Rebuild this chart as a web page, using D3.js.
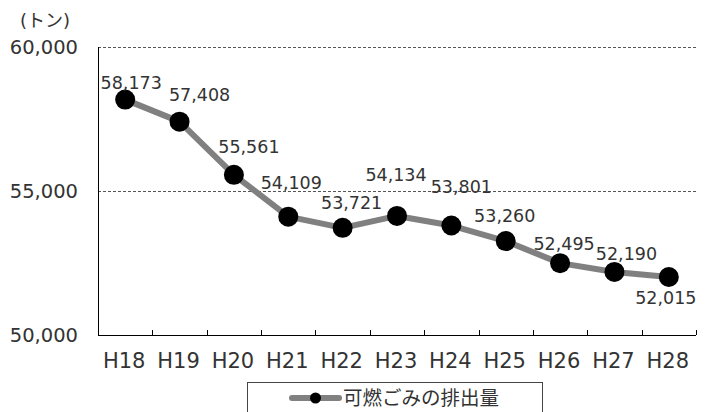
<!DOCTYPE html>
<html>
<head>
<meta charset="utf-8">
<script src="https://cdn.jsdelivr.net/npm/d3@7"></script>
<style>
  body { margin: 0; background: #fff; }
  svg { display: block; font-family: "DejaVu Sans", "Noto Sans CJK JP", sans-serif; }
</style>
</head>
<body>
<svg id="chart"></svg>
<script>
// data
const years = ['H18', 'H19', 'H20', 'H21', 'H22', 'H23', 'H24', 'H25', 'H26', 'H27', 'H28'];
const burnable = [58173, 57408, 55561, 54109, 53721, 54134, 53801, 53260, 52495, 52190, 52015];
const yTicks = [50000, 55000, 60000];
const seriesName = '可燃ごみの排出量';
const unitLabel = '(トン)';

// where each value label sits relative to its point (dx, dy)
const labelOffsets = [[6, -17], [20, -27], [15, -28], [3, -34], [9, -25], [-1, -41],
  [10, -39], [-1, -25], [4, -19], [12, -18], [-3, 21]];

const width = 706, height = 412;
const margin = {top: 47, right: 10, bottom: 77, left: 98};
const innerW = 696 - margin.left;
const innerH = 335 - margin.top;

const svg = d3.select('#chart')
    .attr('width', width)
    .attr('height', height);

const chart = svg.append('g')
    .attr('transform', `translate(${margin.left},${margin.top})`);

const xScale = d3.scaleBand()
    .domain(years)
    .range([0, innerW]);

const yScale = d3.scaleLinear()
    .domain([50000, 60000])
    .range([innerH, 0]);

// dashed gridlines
chart.append('g')
  .selectAll('line')
  .data(yTicks.filter(d => d > 50000))
  .join('line')
    .attr('x1', 0)
    .attr('x2', innerW)
    .attr('y1', d => Math.round(yScale(d)) + 0.5)
    .attr('y2', d => Math.round(yScale(d)) + 0.5)
    .attr('stroke', '#555')
    .attr('stroke-width', 1)
    .attr('stroke-dasharray', '3,2');

// y labels
chart.append('g')
  .selectAll('text')
  .data(yTicks)
  .join('text')
    .attr('x', -20)
    .attr('y', d => yScale(d))
    .attr('dy', '0.36em')
    .attr('text-anchor', 'end')
    .attr('font-size', 19.5)
    .attr('fill', '#333')
    .text(d => d3.format(',')(d));

svg.append('text')
    .attr('x', 20)
    .attr('y', 27)
    .attr('font-size', 18)
    .attr('fill', '#333')
    .text(unitLabel);

// y axis line
chart.append('line')
    .attr('x1', 0.5).attr('x2', 0.5)
    .attr('y1', 0).attr('y2', innerH)
    .attr('stroke', '#000');

// x axis
const xAxisG = chart.append('g')
    .attr('transform', `translate(0,${innerH})`);

xAxisG.append('line')
    .attr('x1', 0).attr('x2', innerW)
    .attr('y1', 0.5).attr('y2', 0.5)
    .attr('stroke', '#000');

// tick marks at band boundaries, pointing up
xAxisG.selectAll('.tick')
  .data(years)
  .join('line')
    .attr('class', 'tick')
    .attr('x1', d => Math.round(xScale(d) + xScale.bandwidth()) + 0.5)
    .attr('x2', d => Math.round(xScale(d) + xScale.bandwidth()) + 0.5)
    .attr('y1', 0)
    .attr('y2', -5)
    .attr('stroke', '#000');

xAxisG.selectAll('.xlabel')
  .data(years)
  .join('text')
    .attr('class', 'xlabel')
    .attr('x', d => xScale(d) + xScale.bandwidth() / 2 - 1)
    .attr('y', 25)
    .attr('dy', '0.36em')
    .attr('text-anchor', 'middle')
    .attr('font-size', 21)
    .attr('fill', '#333')
    .text(d => d);

// line + markers
const xPos = (d, i) => xScale(years[i]) + xScale.bandwidth() / 2;

const line = d3.line()
    .x(xPos)
    .y(d => yScale(d));

chart.append('path')
    .datum(burnable)
    .attr('d', line)
    .attr('fill', 'none')
    .attr('stroke', '#808080')
    .attr('stroke-width', 6)
    .attr('stroke-linejoin', 'round');

chart.selectAll('.dot')
  .data(burnable)
  .join('circle')
    .attr('class', 'dot')
    .attr('cx', xPos)
    .attr('cy', d => yScale(d))
    .attr('r', 10)
    .attr('fill', '#000');

chart.selectAll('.vlabel')
  .data(burnable)
  .join('text')
    .attr('class', 'vlabel')
    .attr('x', (d, i) => xPos(d, i) + labelOffsets[i][0])
    .attr('y', (d, i) => yScale(d) + labelOffsets[i][1])
    .attr('dy', '0.36em')
    .attr('text-anchor', 'middle')
    .attr('font-size', 17.5)
    .attr('fill', '#333')
    .text(d => d3.format(',')(d));

// legend
const legend = svg.append('g');
legend.append('rect')
    .attr('x', 247.5)
    .attr('y', 382.5)
    .attr('width', 295)
    .attr('height', 40)
    .attr('fill', '#fff')
    .attr('stroke', '#444');

legend.append('line')
    .attr('x1', 292).attr('x2', 339)
    .attr('y1', 398).attr('y2', 398)
    .attr('stroke', '#808080')
    .attr('stroke-width', 6)
    .attr('stroke-linecap', 'round');

legend.append('circle')
    .attr('cx', 315.5)
    .attr('cy', 398)
    .attr('r', 5.5)
    .attr('fill', '#000');

legend.append('text')
    .attr('x', 343)
    .attr('y', 398)
    .attr('dy', '0.36em')
    .attr('font-size', 19.5)
    .attr('fill', '#333')
    .text(seriesName);
</script>
</body>
</html>
